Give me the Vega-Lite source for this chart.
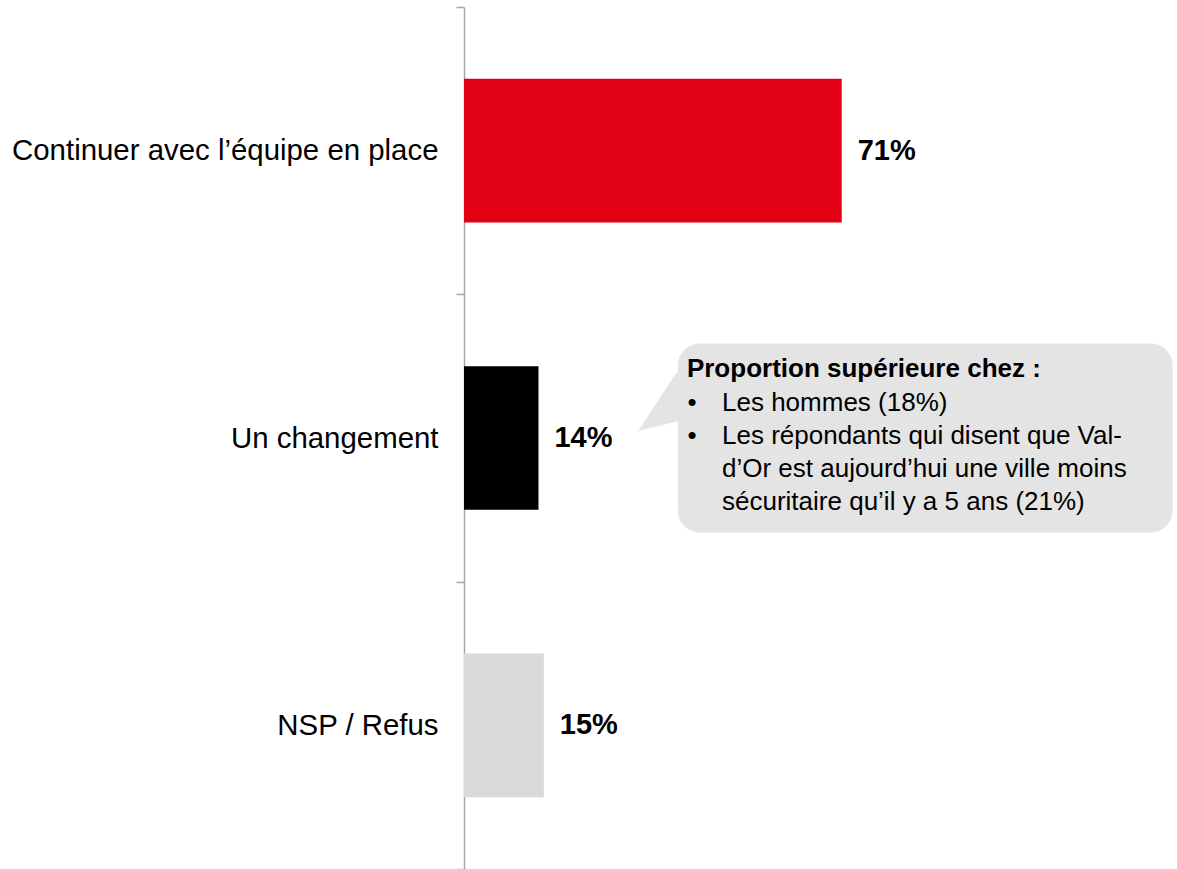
{
  "$schema": "https://vega.github.io/schema/vega-lite/v6.json",
  "autosize": {"type": "none"},
  "padding": {"left": 464, "top": 7, "right": 181, "bottom": 0},
  "width": 532,
  "height": 862,
  "background": "white",
  "config": {
    "view": {"stroke": null},
    "font": "Liberation Sans",
    "axis": {
      "title": null,
      "labelFont": "Liberation Sans",
      "labelFontSize": 29.4,
      "labelColor": "#000000",
      "labelPadding": 18,
      "labelLimit": 1000,
      "tickSize": 8,
      "tickColor": "#a6a6a6",
      "tickWidth": 1.5,
      "domainColor": "#a6a6a6",
      "domainWidth": 1.5,
      "tickBand": "extent",
      "grid": false
    }
  },
  "datasets": {
    "bars": [
      {"category": "Continuer avec l’équipe en place", "value": 0.71},
      {"category": "Un changement", "value": 0.14},
      {"category": "NSP / Refus", "value": 0.15}
    ],
    "note": [
      {
        "category": "Un changement",
        "title": "Proportion supérieure chez :",
        "body": "Les hommes (18%)\nLes répondants qui disent que Val-\nd’Or est aujourd’hui une ville moins\nsécuritaire qu’il y a 5 ans (21%)",
        "bullets": "•\n•"
      }
    ]
  },
  "encoding": {
    "y": {
      "field": "category",
      "type": "nominal",
      "sort": null,
      "scale": {"paddingInner": 0, "paddingOuter": 0},
      "axis": {"orient": "left"}
    }
  },
  "layer": [
    {
      "data": {"name": "bars"},
      "mark": {"type": "bar", "height": {"band": 0.5}},
      "encoding": {
        "x": {"field": "value", "type": "quantitative", "scale": {"domain": [0, 1], "nice": false, "zero": true}, "axis": null},
        "color": {
          "field": "category",
          "type": "nominal",
          "sort": null,
          "scale": {"domain": ["Continuer avec l’équipe en place", "Un changement", "NSP / Refus"], "range": ["#E10014", "#000000", "#D9D9D9"]},
          "legend": null
        }
      }
    },
    {
      "data": {"name": "bars"},
      "mark": {"type": "text", "align": "left", "baseline": "middle", "dx": 16, "fontSize": 29, "fontWeight": "bold", "font": "Liberation Sans", "color": "#000000"},
      "encoding": {
        "x": {"field": "value", "type": "quantitative"},
        "text": {"field": "value", "type": "quantitative", "format": ".0%"}
      }
    },
    {
      "data": {"name": "note"},
      "mark": {"type": "bar", "color": "#E4E4E4", "cornerRadius": 22, "height": {"band": 0.658}},
      "encoding": {
        "x": {"datum": 0.402, "type": "quantitative"},
        "x2": {"datum": 1.332}
      }
    },
    {
      "data": {"name": "note"},
      "mark": {
        "type": "point",
        "filled": true,
        "opacity": 1,
        "color": "#E4E4E4",
        "strokeWidth": 0,
        "size": 19600,
        "shape": "M -0.286 -0.1 L 0.257 -0.929 L 0.43 -0.929 L 0.43 -0.243 L 0.286 -0.243 Z"
      },
      "encoding": {
        "x": {"datum": 0.365, "type": "quantitative"}
      }
    },
    {
      "data": {"name": "note"},
      "mark": {"type": "text", "align": "left", "baseline": "middle", "dy": -69, "fontSize": 26, "fontWeight": "bold", "font": "Liberation Sans", "color": "#000000"},
      "encoding": {
        "x": {"datum": 0.419, "type": "quantitative"},
        "text": {"field": "title"}
      }
    },
    {
      "data": {"name": "note"},
      "mark": {"type": "text", "align": "left", "baseline": "middle", "dy": -35, "lineHeight": 33, "lineBreak": "\n", "fontSize": 26, "font": "Liberation Sans", "color": "#000000"},
      "encoding": {
        "x": {"datum": 0.42, "type": "quantitative"},
        "text": {"field": "bullets"}
      }
    },
    {
      "data": {"name": "note"},
      "mark": {"type": "text", "align": "left", "baseline": "middle", "dy": -35, "lineHeight": 33, "lineBreak": "\n", "fontSize": 26, "font": "Liberation Sans", "color": "#000000"},
      "encoding": {
        "x": {"datum": 0.485, "type": "quantitative"},
        "text": {"field": "body"}
      }
    }
  ]
}
